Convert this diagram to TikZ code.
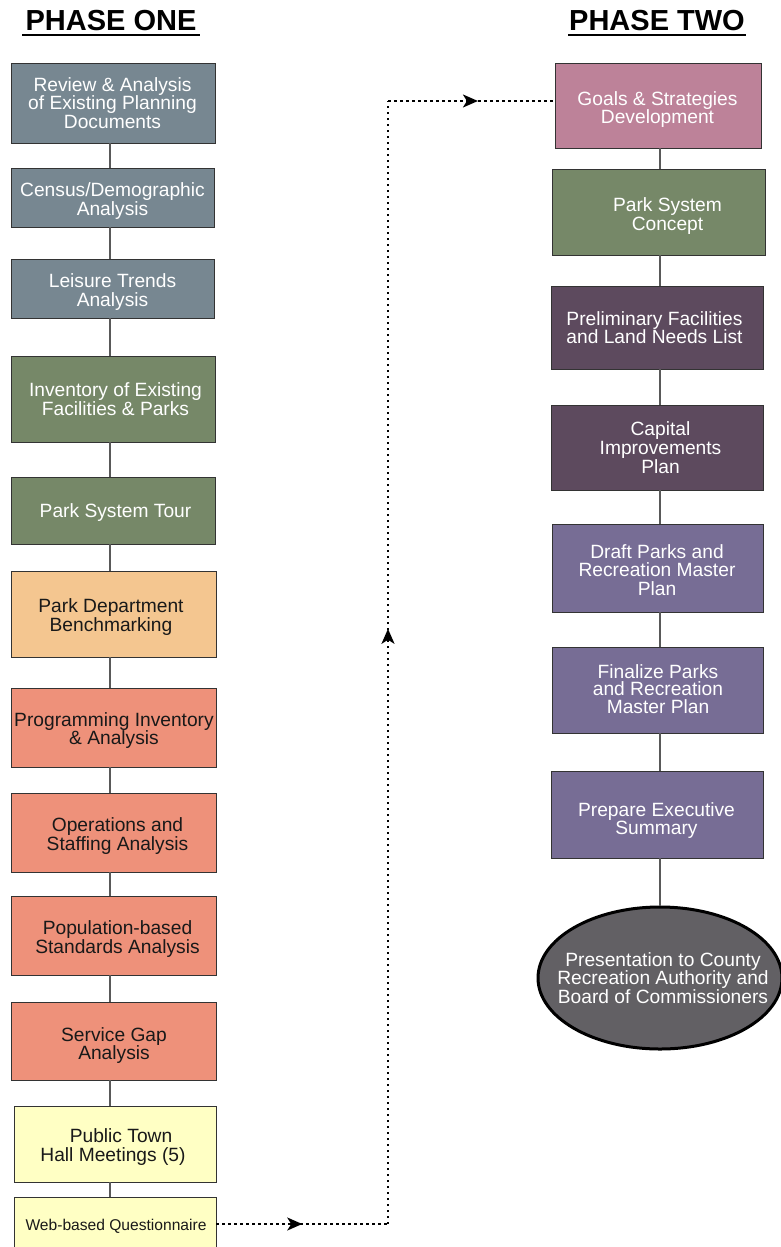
\documentclass[tikz,border=0pt]{standalone}
\usepackage{fontspec}
\setmainfont{Liberation Sans}
\usetikzlibrary{arrows.meta,decorations.markings,shapes.geometric}
\definecolor{slate}{RGB}{119,135,145}
\definecolor{sage}{RGB}{118,136,104}
\definecolor{peach}{RGB}{244,198,144}
\definecolor{salmon}{RGB}{238,145,122}
\definecolor{cream}{RGB}{255,255,196}
\definecolor{mauve}{RGB}{189,130,153}
\definecolor{plum}{RGB}{93,74,94}
\definecolor{lavender}{RGB}{119,109,149}
\definecolor{ovalgray}{RGB}{98,96,100}
\begin{document}
\begin{tikzpicture}[x=1pt,y=-1pt,
  box/.style={draw=black!80, line width=0.9pt, inner sep=0pt},
  lbl/.style={align=center, inner sep=0pt, font=\fontsize{19.2}{18.7}\selectfont},
  lw/.style={lbl, text=white},
  lk/.style={lbl, text=black!90},
  link/.style={draw=black!65, line width=1.2pt},
  dotlink/.style={line width=2pt, dash pattern=on 2.5pt off 3.5pt},
  head/.style={font=\fontsize{29}{29}\selectfont\bfseries, inner sep=0pt},
  midarrow/.style={postaction={decorate, decoration={markings,
      mark=at position #1 with {\arrow{Stealth[length=15pt,width=13pt,inset=4pt]}}}}}
]
\useasboundingbox (0,0) rectangle (780,1247);

% headers
\node[head] (h1) at (111,21) {PHASE ONE};
\draw[line width=2pt] (22,35) -- (200,35);
\node[head] (h2) at (657,21) {PHASE TWO};
\draw[line width=2pt] (568,35) -- (746,35);

% left column
\coordinate (lx) at (110,0);
\node[box, fill=slate, minimum width=204, minimum height=80,
  label={[lw, xshift=-0.5, yshift=0]center:{Review \& Analysis\\of Existing Planning\\Documents}}] (b1) at (113,103) {};
\node[box, fill=slate, minimum width=203, minimum height=59,
  label={[lw, yshift=-3.5]center:{Census/Demographic\\Analysis}}] (b2) at (112.5,197.5) {};
\node[box, fill=slate, minimum width=203, minimum height=59,
  label={[lw, yshift=-3.5]center:{Leisure Trends\\Analysis}}] (b3) at (112.5,288.5) {};
\node[box, fill=sage, minimum width=204, minimum height=86,
  label={[lw, xshift=2.5, yshift=0]center:{Inventory of Existing\\Facilities \& Parks}}] (b4) at (113,399) {};
\node[box, fill=sage, minimum width=204, minimum height=67,
  label={[lw, xshift=2.5, yshift=-2.5]center:{Park System Tour}}] (b5) at (113,510.5) {};
\node[box, fill=peach, minimum width=205, minimum height=86,
  label={[lk, xshift=-2.5, yshift=-3]center:{Park Department\\Benchmarking}}] (b6) at (113.5,614) {};
\node[box, fill=salmon, minimum width=205, minimum height=79,
  label={[lk, xshift=0.5, yshift=-3]center:{Programming Inventory\\\& Analysis}}] (b7) at (113.5,727.5) {};
\node[box, fill=salmon, minimum width=205, minimum height=79,
  label={[lk, xshift=4, yshift=-3.5]center:{Operations and\\Staffing Analysis}}] (b8) at (113.5,832.5) {};
\node[box, fill=salmon, minimum width=205, minimum height=79,
  label={[lk, xshift=4, yshift=-3.5]center:{Population-based\\Standards Analysis}}] (b9) at (113.5,935.5) {};
\node[box, fill=salmon, minimum width=205, minimum height=78,
  label={[lk, xshift=0.5, yshift=-4.5]center:{Service Gap\\Analysis}}] (b10) at (113.5,1041) {};
\node[box, fill=cream, minimum width=202, minimum height=76,
  label={[lk, xshift=-2, yshift=-3]center:{\hspace*{16pt}Public Town\\Hall Meetings (5)}}] (b11) at (115,1144) {};
\node[box, fill=cream, minimum width=202, minimum height=66,
  label={[lk, font=\fontsize{15.6}{15.6}\selectfont, xshift=1, yshift=3.5]center:{Web-based Questionnaire}}] (b12) at (115,1230) {};

\foreach \a/\b in {b1/b2,b2/b3,b3/b4,b4/b5,b5/b6,b6/b7,b7/b8,b8/b9,b9/b10,b10/b11,b11/b12}
  \draw[link] (\a.south -| lx) -- (\b.north -| lx);

% right column
\coordinate (rx) at (660,0);
\node[box, fill=mauve, minimum width=206, minimum height=85,
  label={[lw, xshift=-0.5, yshift=-4]center:{Goals \& Strategies\\Development}}] (r1) at (658,105.5) {};
\node[box, fill=sage, minimum width=213, minimum height=86,
  label={[lw, xshift=9, yshift=-4]center:{Park System\\Concept}}] (r2) at (658.5,212) {};
\node[box, fill=plum, minimum width=212, minimum height=83,
  label={[lw, xshift=-2.5, yshift=0]center:{Preliminary Facilities\\and Land Needs List}}] (r3) at (657,327.5) {};
\node[box, fill=plum, minimum width=212, minimum height=85,
  label={[lw, xshift=3.5, yshift=0]center:{Capital\\Improvements\\Plan}}] (r4) at (657,447.5) {};
\node[box, fill=lavender, minimum width=211, minimum height=88,
  label={[lw, xshift=-0.5, yshift=-2]center:{Draft Parks and\\Recreation Master\\Plan}}] (r5) at (657.5,568) {};
\node[box, fill=lavender, minimum width=211, minimum height=86,
  label={[lw, font=\fontsize{19.2}{17.5}\selectfont, xshift=0.5, yshift=1]center:{Finalize Parks\\and Recreation\\Master Plan}}] (r6) at (657.5,690) {};
\node[box, fill=lavender, minimum width=212, minimum height=87,
  label={[lw, xshift=-0.5, yshift=-6]center:{Prepare Executive\\Summary}}] (r7) at (657,814.5) {};
\node[ellipse, draw=black, line width=3pt, fill=ovalgray, inner sep=0pt,
  minimum width=244, minimum height=142,
  label={[lw, xshift=3, yshift=0]center:{Presentation to County\\Recreation Authority and\\Board of Commissioners}}] (r8) at (660,978) {};

\foreach \a/\b in {r1/r2,r2/r3,r3/r4,r4/r5,r5/r6,r6/r7,r7/r8}
  \draw[link] (\a.south -| rx) -- (\b.north -| rx);

% dotted feedback path
\coordinate (c1) at (388,1224);
\coordinate (c2) at (388,101);
\draw[dotlink, midarrow=0.5] (b12.east |- c1) -- (c1);
\draw[dotlink, midarrow=0.53] (c1) -- (c2);
\draw[dotlink, midarrow=0.54] (c2) -- (r1.west |- c2);
\end{tikzpicture}
\end{document}
